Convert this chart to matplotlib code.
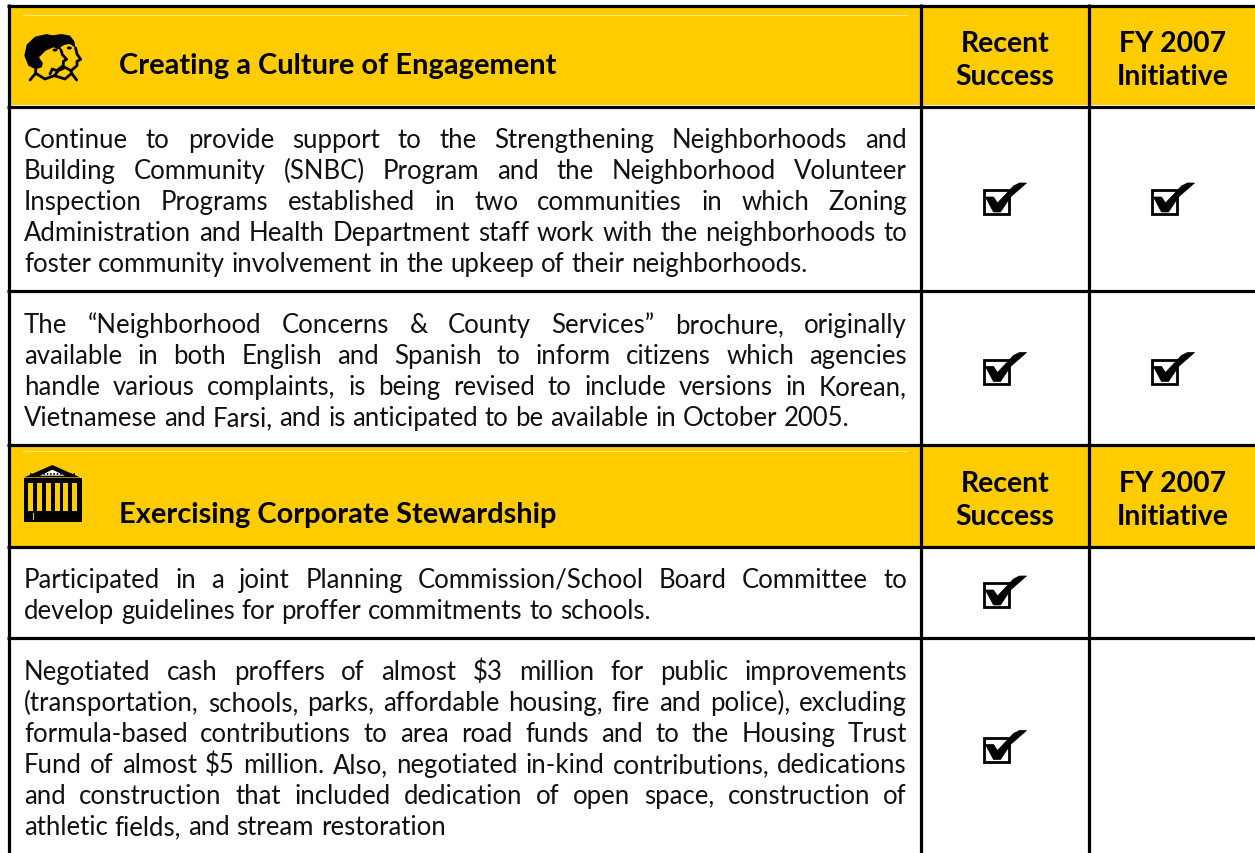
import matplotlib
matplotlib.use("Agg")
import matplotlib.pyplot as plt
from matplotlib.patches import Rectangle, Polygon, Ellipse

FONT = "Lato"
YELLOW = "#FFCC00"

headers = ["Creating a Culture of Engagement", "Exercising Corporate Stewardship"]
col_heads = [["Recent", "Success"], ["FY 2007", "Initiative"]]

row1 = ["Continue to provide support to the Strengthening Neighborhoods and",
        "Building Community (SNBC) Program and the Neighborhood Volunteer",
        "Inspection Programs established in two communities in which Zoning",
        "Administration and Health Department staff work with the neighborhoods to",
        "foster community involvement in the upkeep of their neighborhoods."]
row2 = ["The \u201cNeighborhood Concerns & County Services\u201d brochure, originally",
        "available in both English and Spanish to inform citizens which agencies",
        "handle various complaints, is being revised to include versions in Korean,",
        "Vietnamese and Farsi, and is anticipated to be available in October 2005."]
row3 = ["Participated in a joint Planning Commission/School Board Committee to",
        "develop guidelines for proffer commitments to schools."]
row4 = ["Negotiated cash proffers of almost $3 million for public improvements",
        "(transportation, schools, parks, affordable housing, fire and police), excluding",
        "formula-based contributions to area road funds and to the Housing Trust",
        "Fund of almost $5 million. Also, negotiated in-kind contributions, dedications",
        "and construction that included dedication of open space, construction of",
        "athletic fields, and stream restoration"]

rows = [row1, row2, row3, row4]
first_baseline = [148, 333, 588, 680]
recent = [True, True, True, True]
initiative = [True, True, False, False]
check_y = [203, 372.5, 596, 750.5]

fig = plt.figure(figsize=(12.55, 8.54), dpi=100)
ax = fig.add_axes([0, 0, 1, 1])
ax.set_xlim(0, 1255)
ax.set_ylim(854, 0)
ax.axis("off")


def justified(line, x0, x1, y, justify):
    words = line.split(" ")
    r = fig.canvas.get_renderer()
    arts = [ax.text(0, y, w, family=FONT, fontsize=18.5, color="#111111", va="baseline") for w in words]
    widths = [a.get_window_extent(r).width for a in arts]
    space = (x1 - x0 - sum(widths)) / (len(words) - 1) if justify else 6.8
    x = x0
    for a, w in zip(arts, widths):
        a.set_x(x)
        x += w + space


def check(cx, cy):
    ax.add_patch(Rectangle((cx - 12.5, cy - 12), 25, 24, fc="white", ec="black", lw=2, zorder=3))
    pts = [(-11, -5), (-3, -5), (1, 1), (17, -16), (23, -19), (30, -19), (14, -5), (4, 10), (-3, 10)]
    ax.add_patch(Polygon([(cx + a, cy + b) for a, b in pts], fc="black", ec="black", lw=0.5, zorder=4))


def icon_poly(x0, y0, pts, **kw):
    # pts are in 3x crop pixels of the icon
    ax.add_patch(Polygon([(x0 + a / 3, y0 + b / 3) for a, b in pts], **kw))


def icon_line(x0, y0, pts, lw=2):
    ax.plot([x0 + a / 3 for a, b in pts], [y0 + b / 3 for a, b in pts], color="black", lw=lw,
            solid_capstyle="round", solid_joinstyle="round")


def faces(x0, y0):
    # back head
    icon_poly(x0, y0, [(105, 35), (140, 30), (165, 35), (178, 52), (182, 72), (165, 60), (150, 62), (125, 75)],
              fc="black", ec="none")
    icon_line(x0, y0, [(182, 72), (186, 90), (197, 106), (186, 112), (186, 125), (168, 140), (150, 130), (135, 138)])
    # front head
    icon_poly(x0, y0, [(28, 95), (35, 62), (60, 38), (95, 30), (125, 38), (135, 55), (138, 78), (115, 70),
                       (92, 80), (72, 100), (84, 118), (80, 130), (62, 136), (40, 125)], fc="black", ec="none")
    icon_line(x0, y0, [(138, 78), (142, 92), (155, 106), (145, 112), (145, 125), (125, 140), (112, 135), (105, 150)])
    ax.add_patch(Ellipse((x0 + 120 / 3, y0 + 78 / 3), 5, 3, fc="black", ec="none"))
    ax.add_patch(Ellipse((x0 + 163 / 3, y0 + 72 / 3), 5, 3, fc="black", ec="none"))
    # shoulders
    icon_line(x0, y0, [(62, 135), (62, 148), (45, 168)])
    icon_line(x0, y0, [(62, 148), (90, 165), (118, 155), (130, 140)])
    icon_line(x0, y0, [(118, 155), (150, 165), (170, 148), (185, 168)])
    icon_line(x0, y0, [(170, 148), (168, 140)])


def temple(x0, y0):
    icon_poly(x0, y0, [(28, 55), (112, 18), (195, 55)], fc="black", ec="none")
    icon_poly(x0, y0, [(75, 50), (112, 32), (150, 50)], fc="white", ec="none")
    ax.plot([x0 + 45 / 3, x0 + 180 / 3], [y0 + 45 / 3, y0 + 45 / 3], color="black", lw=1.2, ls=(0, (1, 1)))
    ax.add_patch(Rectangle((x0 + 28 / 3, y0 + 58 / 3), 172 / 3, 130 / 3, fc="black", ec="none"))
    for gap in [40, 66, 93, 120, 145, 172]:
        ax.add_patch(Rectangle((x0 + gap / 3, y0 + 72 / 3), 14 / 3, 83 / 3, fc=YELLOW, ec="none"))
    ax.add_patch(Rectangle((x0 + 53 / 3, y0 + 162 / 3), 1, 20 / 3, fc=YELLOW, ec="none"))


# header bands
for top, bottom in [(8, 106), (447, 547)]:
    ax.add_patch(Rectangle((10, top), 1245, bottom - top, fc=YELLOW, ec="none", zorder=0))
ax.plot([23, 907], [16, 16], color="#FFE680", lw=0.8)
ax.plot([23, 907], [452, 452], color="#FFE680", lw=0.8)

# grid lines
for x in [8.5, 920.5, 1089]:
    ax.plot([x, x], [5, 854], color="black", lw=2.3, solid_capstyle="butt", zorder=5)
for y in [6.5, 107.5, 292, 446, 547.5, 639]:
    ax.plot([7, 1255], [y, y], color="black", lw=2.3, solid_capstyle="butt", zorder=5)

faces(15, 25)
temple(15, 460)

for title, by, cy in zip(headers, [74, 523], [52, 492]):
    ax.text(119, by, title, family=FONT, fontsize=20.9, fontweight="bold", va="baseline", color="black")
    for cx, lines in zip([1005, 1173], col_heads):
        ax.text(cx, cy, lines[0], family=FONT, fontsize=20.4, fontweight="bold", ha="center", va="baseline")
        ax.text(cx, cy + 33, lines[1], family=FONT, fontsize=20.4, fontweight="bold", ha="center", va="baseline")

for lines, b in zip(rows, first_baseline):
    for i, line in enumerate(lines):
        justified(line, 24, 907, b + i * 31.1, i < len(lines) - 1)

for i in range(len(rows)):
    if recent[i]:
        check(996.5, check_y[i])
    if initiative[i]:
        check(1164.5, check_y[i])

fig.savefig("out.png", dpi=100)
